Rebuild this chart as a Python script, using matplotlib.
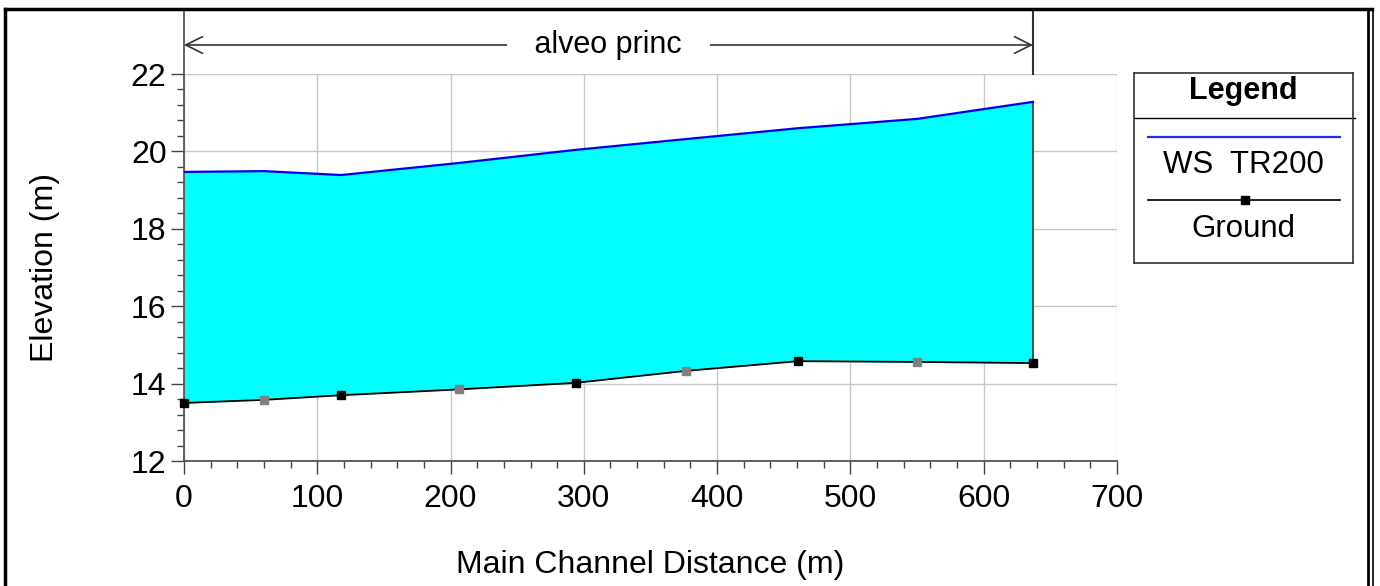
import numpy as np
import matplotlib.pyplot as plt
from matplotlib.lines import Line2D
from matplotlib.ticker import MultipleLocator

plt.rcParams['font.family'] = ['Liberation Sans', 'DejaVu Sans']

# Main channel distance (m) of each cross section
distance = [0, 60, 118, 206, 294, 377, 461, 550, 637]
# Ground (channel invert) elevation (m)
ground = [13.50, 13.58, 13.70, 13.85, 14.02, 14.33, 14.58, 14.56, 14.53]
# Water surface TR200 (m)
ws_tr200 = [19.47, 19.49, 19.39, 19.70, 20.04, 20.32, 20.60, 20.84, 21.28]
# interpolated sections are drawn with gray markers
interpolated = [False, True, False, True, False, True, False, True, False]

bank_label = 'alveo princ'
bank_right = 637

fig = plt.figure(figsize=(13.8, 5.86), dpi=100)
ax = fig.add_axes([0.1333, 0.2133, 0.6761, 0.6604])

# water area
ax.fill_between(distance, ground, ws_tr200, color='#00ffff', linewidth=0, zorder=2)
ax.plot([distance[-1], distance[-1]], [ground[-1], ws_tr200[-1]], color='#444444', lw=1.3, zorder=3)
ax.plot(distance, ws_tr200, color='#0000ee', lw=1.6, zorder=4)
ax.plot(distance, ground, color='black', lw=1.3, zorder=4)
for d, g, interp in zip(distance, ground, interpolated):
    ax.plot(d, g, 's', ms=5.5, color='#808080' if interp else 'black', zorder=5, clip_on=False)

ax.set_xlim(0, 700)
ax.set_ylim(12, 22)
ax.xaxis.set_major_locator(MultipleLocator(100))
ax.xaxis.set_minor_locator(MultipleLocator(20))
ax.yaxis.set_major_locator(MultipleLocator(2))
ax.yaxis.set_minor_locator(MultipleLocator(0.4))
ax.grid(True, which='major', color='#c8c8c8', lw=1)
ax.set_axisbelow(True)
for s in ['top', 'right']:
    ax.spines[s].set_visible(False)
for s in ['left', 'bottom']:
    ax.spines[s].set_color('#555555')
    ax.spines[s].set_linewidth(1.3)
ax.tick_params(which='major', length=9.5, width=1, color='#444444', labelsize=23, pad=3)
ax.tick_params(axis='x', which='major', pad=7)
ax.tick_params(which='minor', length=5, width=1, color='#444444')
ax.set_xlabel('Main Channel Distance (m)', fontsize=23, labelpad=26)
ax.set_ylabel('Elevation (m)', fontsize=23, labelpad=51)

# left spine extension and bank station line above the plot
ax.plot([0, 0], [22, 23.65], color='#555555', lw=1.3, clip_on=False)
ax.plot([bank_right, bank_right], [22, 23.65], color='#333333', lw=1.5, clip_on=False)
ax.annotate('', xy=(0, 22.75), xytext=(bank_right, 22.75),
            arrowprops=dict(arrowstyle='<->', color='#333333', lw=1.2,
                            mutation_scale=30, shrinkA=0, shrinkB=0),
            annotation_clip=False)
ax.text(bank_right / 2, 22.75, '   ' + bank_label + '   ', fontsize=22, ha='center', va='center',
        bbox=dict(facecolor='white', edgecolor='none', pad=2), clip_on=False)

# legend box
lg = fig.add_axes([0.8217, 0.5512, 0.1587, 0.3242])
lg.set_xlim(0, 1)
lg.set_ylim(0, 1)
lg.set_xticks([])
lg.set_yticks([])
for s in lg.spines.values():
    s.set_color('#333333')
    s.set_linewidth(1.2)
lg.text(0.5, 0.905, 'Legend', fontsize=22, fontweight='bold', ha='center', va='center')
lg.plot([0, 1.01], [0.763, 0.763], color='black', lw=1, clip_on=False)
lg.plot([0.064, 0.94], [0.663, 0.663], color='#2a2aff', lw=1.6)
lg.text(0.5, 0.516, 'WS  TR200', fontsize=22.5, ha='center', va='center')
lg.plot([0.064, 0.94], [0.332, 0.332], color='black', lw=1.2)
lg.plot(0.507, 0.332, 's', ms=5.5, color='black')
lg.text(0.5, 0.179, 'Ground', fontsize=22.5, ha='center', va='center')

# outer frame
fig.add_artist(Line2D([5 / 1380, 1372 / 1380], [1 - 9 / 586, 1 - 9 / 586], color='black', lw=2.5))
fig.add_artist(Line2D([5 / 1380, 5 / 1380], [0, 1 - 9 / 586], color='black', lw=2.5))
fig.add_artist(Line2D([1368 / 1380, 1368 / 1380], [0, 1 - 9 / 586], color='black', lw=2))
fig.add_artist(Line2D([1373 / 1380, 1373 / 1380], [0, 1 - 9 / 586], color='black', lw=1.2))

fig.savefig('out.png', dpi=100)
